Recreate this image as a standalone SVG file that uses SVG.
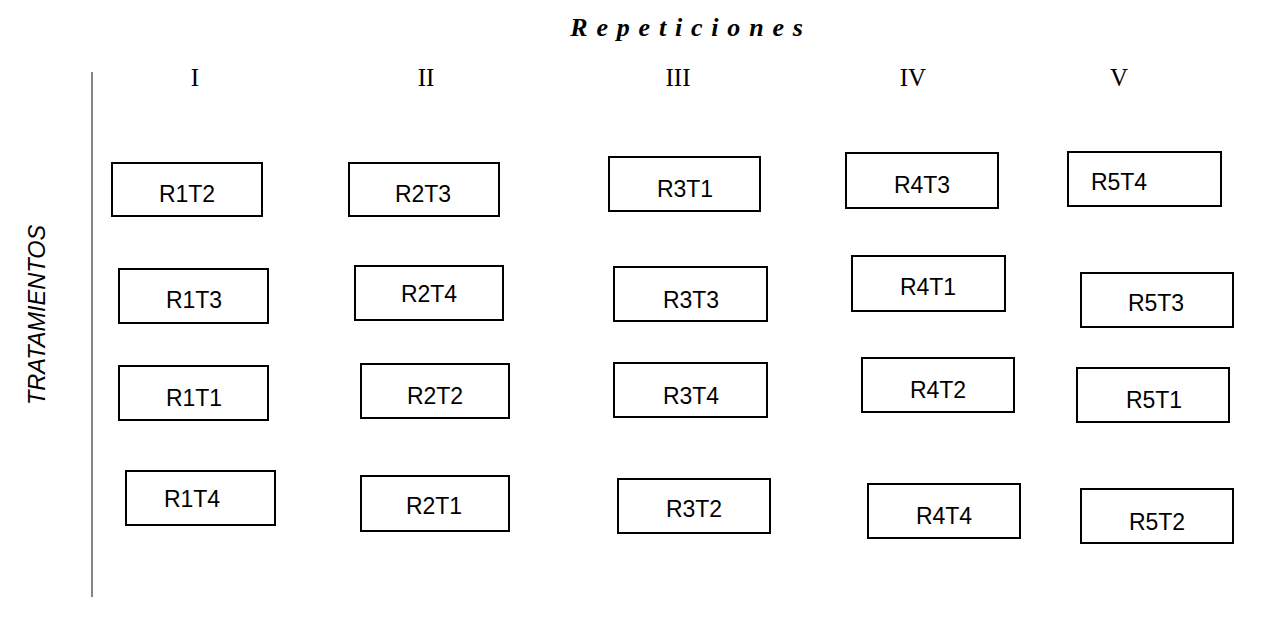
<svg xmlns="http://www.w3.org/2000/svg" width="1284" height="625" viewBox="0 0 1284 625">
  <style>
    .box rect { fill: #ffffff; stroke: #000000; stroke-width: 2; }
    .box text { font-family: "Liberation Sans", Arial, sans-serif; font-size: 23px; fill: #000000; text-anchor: middle; }
    .roman { font-family: "Liberation Serif", "Times New Roman", serif; font-size: 25px; fill: #000000; text-anchor: middle; }
    .title { font-family: "Liberation Serif", "Times New Roman", serif; font-size: 26px; font-weight: bold; font-style: italic; fill: #000000; text-anchor: middle; letter-spacing: 8.8px; }
    .axis { font-family: "Liberation Sans", Arial, sans-serif; font-size: 23.5px; font-style: italic; fill: #000000; text-anchor: middle; }
  </style>

  <rect width="1284" height="625" fill="#ffffff"/>

  <!-- headings -->
  <text class="title" x="691" y="36">Repeticiones</text>
  <text class="axis" transform="translate(45,315) rotate(-90)">TRATAMIENTOS</text>

  <!-- column numerals -->
  <g id="columns">
    <text class="roman" x="195" y="86">I</text>
    <text class="roman" x="426" y="86">II</text>
    <text class="roman" x="678" y="86">III</text>
    <text class="roman" x="913" y="86">IV</text>
    <text class="roman" x="1119" y="86">V</text>
  </g>

  <!-- left axis line -->
  <g id="connectors">
    <line x1="92" y1="72" x2="92" y2="597" stroke="#333333" stroke-width="1.2"/>
  </g>

  <!-- row 1 -->
  <g id="R1T2" class="box"><rect x="112" y="163" width="150" height="53"/><text x="187" y="202">R1T2</text></g>
  <g id="R2T3" class="box"><rect x="349" y="163" width="150" height="53"/><text x="423" y="202">R2T3</text></g>
  <g id="R3T1" class="box"><rect x="609" y="157" width="151" height="54"/><text x="685" y="197">R3T1</text></g>
  <g id="R4T3" class="box"><rect x="846" y="153" width="152" height="55"/><text x="922" y="193">R4T3</text></g>
  <g id="R5T4" class="box"><rect x="1068" y="152" width="153" height="54"/><text x="1119" y="190">R5T4</text></g>

  <!-- row 2 -->
  <g id="R1T3" class="box"><rect x="119" y="269" width="149" height="54"/><text x="194" y="308">R1T3</text></g>
  <g id="R2T4" class="box"><rect x="355" y="266" width="148" height="54"/><text x="429" y="302">R2T4</text></g>
  <g id="R3T3" class="box"><rect x="614" y="267" width="153" height="54"/><text x="691" y="308">R3T3</text></g>
  <g id="R4T1" class="box"><rect x="852" y="256" width="153" height="55"/><text x="928" y="295">R4T1</text></g>
  <g id="R5T3" class="box"><rect x="1081" y="273" width="152" height="54"/><text x="1156" y="311">R5T3</text></g>

  <!-- row 3 -->
  <g id="R1T1" class="box"><rect x="119" y="366" width="149" height="54"/><text x="194" y="406">R1T1</text></g>
  <g id="R2T2" class="box"><rect x="361" y="364" width="148" height="54"/><text x="435" y="404">R2T2</text></g>
  <g id="R3T4" class="box"><rect x="614" y="363" width="153" height="54"/><text x="691" y="404">R3T4</text></g>
  <g id="R4T2" class="box"><rect x="862" y="358" width="152" height="54"/><text x="938" y="398">R4T2</text></g>
  <g id="R5T1" class="box"><rect x="1077" y="368" width="152" height="54"/><text x="1154" y="408">R5T1</text></g>

  <!-- row 4 -->
  <g id="R1T4" class="box"><rect x="126" y="471" width="149" height="54"/><text x="192" y="507">R1T4</text></g>
  <g id="R2T1" class="box"><rect x="361" y="476" width="148" height="55"/><text x="434" y="514">R2T1</text></g>
  <g id="R3T2" class="box"><rect x="618" y="479" width="152" height="54"/><text x="694" y="517">R3T2</text></g>
  <g id="R4T4" class="box"><rect x="868" y="484" width="152" height="54"/><text x="944" y="524">R4T4</text></g>
  <g id="R5T2" class="box"><rect x="1081" y="489" width="152" height="54"/><text x="1157" y="530">R5T2</text></g>
</svg>
